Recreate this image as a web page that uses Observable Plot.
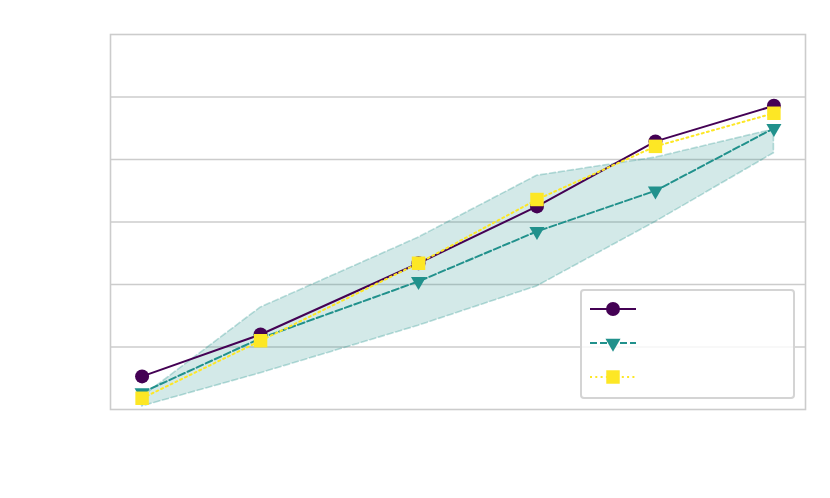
<!DOCTYPE html>
<html>
<head>
<meta charset="utf-8">
<script src="https://cdn.jsdelivr.net/npm/d3@7"></script>
<script src="https://cdn.jsdelivr.net/npm/@observablehq/plot@0.6"></script>
<style>
  html, body { margin: 0; padding: 0; background: #fff; }
  #wrap { position: relative; width: 830px; height: 498px; font-family: "DejaVu Sans", sans-serif; }
  #legend { position: absolute; left: 580px; top: 289px; width: 211px; height: 106px;
            border: 2px solid #d4d4d4; border-radius: 4px; background: rgba(255,255,255,0.8); }
  #legend .row { position: absolute; left: 8px; }
</style>
</head>
<body>
<div id="wrap"><div id="legend"></div></div>
<script>
// Data
const xs = [0, 3, 7, 10, 13, 16];
const seriesA = [0.53, 1.20, 2.34, 3.25, 4.29, 4.86];
const seriesB = [0.27, 1.14, 2.05, 2.85, 3.50, 4.50];
const seriesC = [0.18, 1.10, 2.34, 3.36, 4.21, 4.74];
const bandUpper = [0.20, 1.63, 2.75, 3.74, 4.03, 4.48];
const bandLower = [0.05, 0.58, 1.34, 1.97, 3.00, 4.10];
const gridTicks = [1, 2, 3, 4, 5];
const seriesNames = ["", "", ""];
const colors = ["#440154", "#21918c", "#fde725"];

const rows = (vals) => xs.map((x, i) => ({x, y: vals[i]}));
const band = xs.map((x, i) => ({x, lo: bandLower[i], hi: bandUpper[i]}));

const chart = Plot.plot({
  width: 830,
  height: 498,
  marginLeft: 110,
  marginRight: 25,
  marginTop: 34,
  marginBottom: 89,
  x: {domain: [-0.8, 16.8], axis: null},
  y: {domain: [0, 6], axis: null},
  marks: [
    Plot.ruleY(gridTicks, {stroke: "#cccccc", strokeWidth: 1.3, strokeOpacity: 1}),
    Plot.areaY(band, {x: "x", y1: "lo", y2: "hi", fill: colors[1], fillOpacity: 0.2,
      stroke: colors[1], strokeOpacity: 0.3, strokeWidth: 1.6, strokeDasharray: "6,3"}),
    Plot.line(rows(seriesA), {x: "x", y: "y", stroke: colors[0], strokeWidth: 2}),
    Plot.dot(rows(seriesA), {x: "x", y: "y", symbol: "circle", r: 7, fill: colors[0], stroke: "none"}),
    Plot.line(rows(seriesB), {x: "x", y: "y", stroke: colors[1], strokeWidth: 2, strokeDasharray: "7,3"}),
    Plot.dot(rows(seriesB), {x: "x", y: "y", symbol: "triangle", rotate: 180, r: 5.6, fill: colors[1], stroke: "none"}),
    Plot.line(rows(seriesC), {x: "x", y: "y", stroke: colors[2], strokeWidth: 2, strokeDasharray: "2,3.3"}),
    Plot.dot(rows(seriesC), {x: "x", y: "y", symbol: "square", r: 7.6, fill: colors[2], stroke: "none"}),
    Plot.frame({stroke: "#cccccc", strokeWidth: 1.6})
  ]
});
document.getElementById("wrap").prepend(chart);

// Legend (no labels, as in the reference)
const legend = d3.select("#legend");
const specs = [
  {color: colors[0], dash: null, symbol: d3.symbolCircle, size: Math.PI * 7 * 7},
  {color: colors[1], dash: "7,3", symbol: d3.symbolTriangle, size: Math.PI * 5.6 * 5.6, rotate: 180},
  {color: colors[2], dash: "2,3.3", symbol: d3.symbolSquare, size: Math.PI * 7.6 * 7.6}
];
specs.forEach((s, i) => {
  const svg = legend.append("svg").attr("class", "row")
    .style("top", (i * 34 + 4) + "px").attr("width", 50).attr("height", 26);
  svg.append("line").attr("x1", 0).attr("x2", 46).attr("y1", 14).attr("y2", 14)
    .attr("stroke", s.color).attr("stroke-width", 2).attr("stroke-dasharray", s.dash);
  svg.append("path").attr("d", d3.symbol(s.symbol, s.size)())
    .attr("transform", `translate(23,14) rotate(${s.rotate || 0})`).attr("fill", s.color);
  legend.append("span").text(seriesNames[i]);
});
</script>
</body>
</html>
